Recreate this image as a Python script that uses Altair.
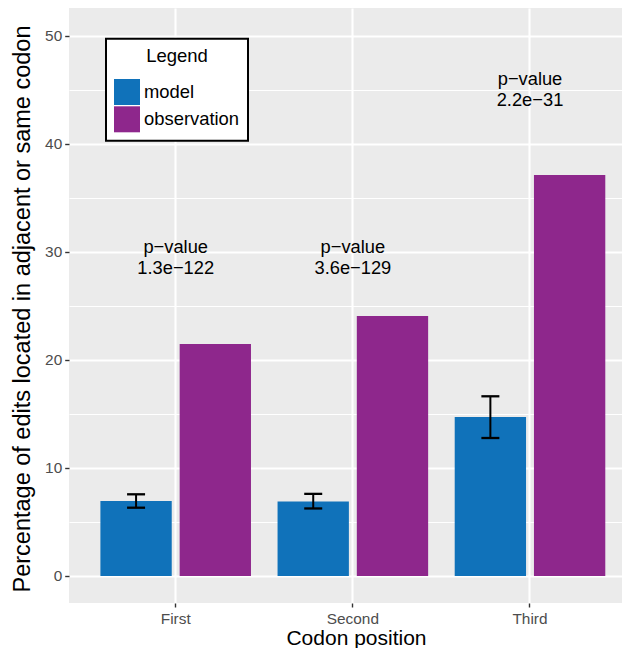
import altair as alt
import pandas as pd

# ---- data ----
positions = ["First", "Second", "Third"]
series = ["model", "observation"]
model_pct = [6.93, 6.90, 14.71]
model_upper = [7.56, 7.60, 16.63]
model_lower = [6.32, 6.25, 12.77]
observation_pct = [21.47, 24.06, 37.11]
pvalue_labels = ["1.3e\u2212122", "3.6e\u2212129", "2.2e\u221231"]
label_y = [29.5, 29.5, 45.0]
colors = ["#1072BA", "#8E278C"]
y_ticks = list(range(0, 51, 5))

bars_df = pd.DataFrame({
    "position": positions * 2,
    "series": [series[0]] * 3 + [series[1]] * 3,
    "pct": model_pct + observation_pct,
})
err_df = pd.DataFrame({
    "position": positions,
    "series": [series[0]] * 3,
    "upper": model_upper,
    "lower": model_lower,
})
ann_df = pd.DataFrame({
    "position": positions,
    "y": label_y,
    "label": ["p\u2212value\n" + p for p in pvalue_labels],
})

FONT = "Liberation Sans"

x_scale = alt.Scale(domain=positions, paddingInner=0.15, paddingOuter=0.1358, align=0.6527)
xoff_scale = alt.Scale(domain=series, paddingInner=0.1, paddingOuter=0)
y_scale = alt.Scale(domain=[-2.499, 52.563], nice=False, zero=False)

x_axis = alt.Axis(
    title="Codon position", titleFontSize=21, titleFontWeight="normal", titleColor="black",
    titleX=287, titleY=41.5, titleBaseline="alphabetic", titleAlign="center",
    labelFontSize=15.4, labelColor="#4D4D4D", labelAngle=0, labelPadding=4,
    tickColor="#333333", tickSize=4, tickWidth=1.4, domain=False,
    grid=True, gridColor="white", gridWidth=2.1, bandPosition=0.5,
)
y_axis = alt.Axis(
    title="Percentage of edits located in adjacent or same codon",
    titleFontSize=23.5, titleFontWeight="normal", titleColor="black",
    titleAngle=270, titleX=-39.7, titleY=300.5, titleBaseline="alphabetic", titleAlign="center",
    values=y_ticks,
    labelExpr="datum.value % 10 === 0 ? datum.label : ''",
    labelFontSize=15.4, labelColor="#4D4D4D", labelPadding=3,
    tickColor="#333333", tickSize=4.3, tickWidth=1.4,
    tickOpacity={"condition": {"test": "datum.value % 10 === 0", "value": 1}, "value": 0},
    domain=False, grid=True, gridColor="white",
    gridWidth={"condition": {"test": "datum.value % 10 === 0", "value": 2.1}, "value": 1.05},
)

legend = alt.Legend(
    title="Legend", orient="none", legendX=37, legendY=30.7,
    padding=8, strokeColor="black", fillColor="white",
    symbolType="square", symbolSize=676, symbolStrokeWidth=0, symbolOpacity=1,
    labelFontSize=18.4, labelColor="black", labelOffset=4, labelFont=FONT,
    titleFontSize=18.5, titleFontWeight="normal", titleColor="black", titleFont=FONT,
    titlePadding=13.8, titleAnchor="middle", rowPadding=1.3,
)

bars = alt.Chart(bars_df).mark_bar(opacity=1).encode(
    x=alt.X("position:N", scale=x_scale, axis=x_axis, sort=positions),
    xOffset=alt.XOffset("series:N", scale=xoff_scale, sort=series),
    y=alt.Y("pct:Q", scale=y_scale, axis=y_axis),
    y2=alt.datum(0),
    color=alt.Color("series:N", scale=alt.Scale(domain=series, range=colors), legend=legend),
)

err_rule = alt.Chart(err_df).mark_rule(color="black", strokeWidth=2).encode(
    x=alt.X("position:N", scale=x_scale, sort=positions),
    xOffset=alt.XOffset("series:N", scale=xoff_scale, sort=series),
    y=alt.Y("lower:Q", scale=y_scale),
    y2="upper:Q",
)
err_top = alt.Chart(err_df).mark_tick(color="black", size=18, thickness=2.3, opacity=1).encode(
    x=alt.X("position:N", scale=x_scale, sort=positions),
    xOffset=alt.XOffset("series:N", scale=xoff_scale, sort=series),
    y=alt.Y("upper:Q", scale=y_scale),
)
err_bot = alt.Chart(err_df).mark_tick(color="black", size=18, thickness=2.3, opacity=1).encode(
    x=alt.X("position:N", scale=x_scale, sort=positions),
    xOffset=alt.XOffset("series:N", scale=xoff_scale, sort=series),
    y=alt.Y("lower:Q", scale=y_scale),
)

ann = alt.Chart(ann_df).mark_text(
    fontSize=18.3, color="black", font=FONT, lineBreak="\n", lineHeight=21,
    align="center", baseline="middle", dy=-9.5,
).encode(
    x=alt.X("position:N", scale=x_scale, sort=positions),
    y=alt.Y("y:Q", scale=y_scale),
    text="label:N",
)

chart = alt.layer(bars, err_rule, err_top, err_bot, ann).properties(
    width=553, height=595,
    autosize=alt.AutoSizeParams(type="none"),
    padding={"left": 61, "top": 0, "right": 0, "bottom": 45},
).configure(
    font=FONT,
).configure_legend(
    strokeWidth=2,
).configure_view(
    stroke=None, fill="#EBEBEB",
)

chart.save("out.html", embed_options={"renderer": "svg", "actions": False})
